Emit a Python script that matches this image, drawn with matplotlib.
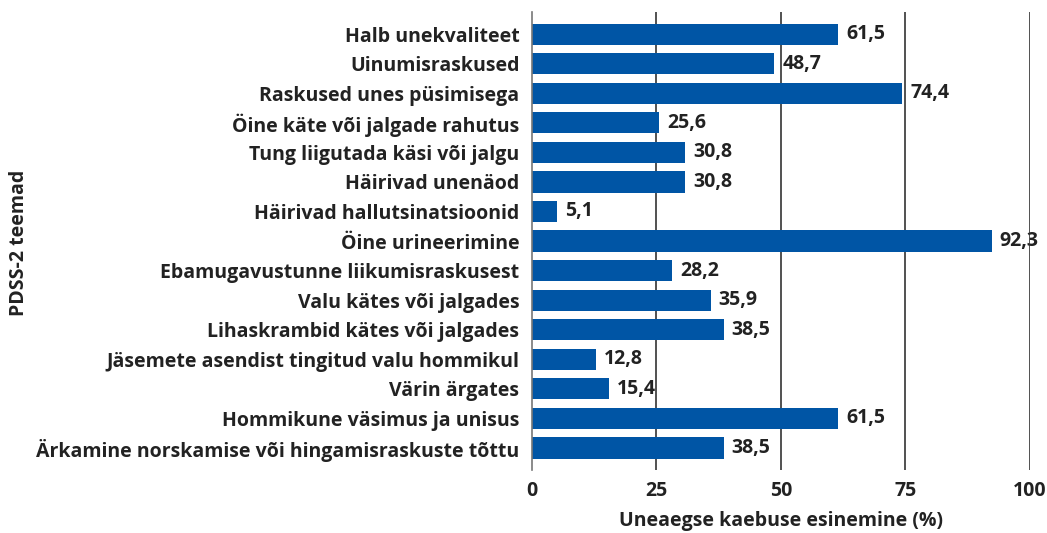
import matplotlib
matplotlib.use("Agg")
import matplotlib.pyplot as plt

categories = [
    "Halb unekvaliteet",
    "Uinumisraskused",
    "Raskused unes püsimisega",
    "Öine käte või jalgade rahutus",
    "Tung liigutada käsi või jalgu",
    "Häirivad unenäod",
    "Häirivad hallutsinatsioonid",
    "Öine urineerimine",
    "Ebamugavustunne liikumisraskusest",
    "Valu kätes või jalgades",
    "Lihaskrambid kätes või jalgades",
    "Jäsemete asendist tingitud valu hommikul",
    "Värin ärgates",
    "Hommikune väsimus ja unisus",
    "Ärkamine norskamise või hingamisraskuste tõttu",
]
values = [61.5, 48.7, 74.4, 25.6, 30.8, 30.8, 5.1, 92.3, 28.2, 35.9, 38.5, 12.8, 15.4, 61.5, 38.5]
xticks = [0, 25, 50, 75, 100]

plt.rcParams['font.family'] = ['Open Sans', 'DejaVu Sans']
FW = 'bold'
TXT = '#222222'
FS = 14

fig = plt.figure(figsize=(10.47, 5.33), dpi=100)
ax = fig.add_axes([0.508, 0.118, 0.4757, 0.8595])

y = list(range(len(categories)))
ax.barh(y, values, height=0.72, color='#0055A5', zorder=2)
for yi, v in zip(y, values):
    ax.text(v + 1.6, yi, f"{v:.1f}".replace('.', ','), va='center', ha='left',
            fontsize=FS, fontweight=FW, color=TXT, zorder=1)

ax.set_ylim(len(categories) - 0.25, -0.75)
ax.set_xlim(0, 100)
ax.set_yticks(y)
ax.set_yticklabels(categories, fontsize=FS, fontweight=FW, color=TXT)
ax.set_xticks(xticks)
ax.set_xticklabels([str(t) for t in xticks], fontsize=FS, fontweight=FW, color=TXT)
ax.tick_params(axis='both', length=0)
ax.tick_params(axis='x', pad=8)
ax.tick_params(axis='y', pad=9)
for s in ['top', 'right', 'bottom']:
    ax.spines[s].set_visible(False)
ax.spines['left'].set_color('#777777')
ax.spines['left'].set_linewidth(1.2)
ax.set_axisbelow(True)
for t in xticks[1:]:
    ax.axvline(t, color='#333333', linewidth=1.2, zorder=1.5)

ax.set_xlabel("Uneaegse kaebuse esinemine (%)", fontsize=FS, fontweight=FW, color=TXT, labelpad=7)
fig.text(0.018, 0.545, "PDSS-2 teemad", rotation=90, va='center', ha='center',
         fontsize=FS, fontweight=FW, color=TXT)

fig.savefig("out.png", dpi=100)
